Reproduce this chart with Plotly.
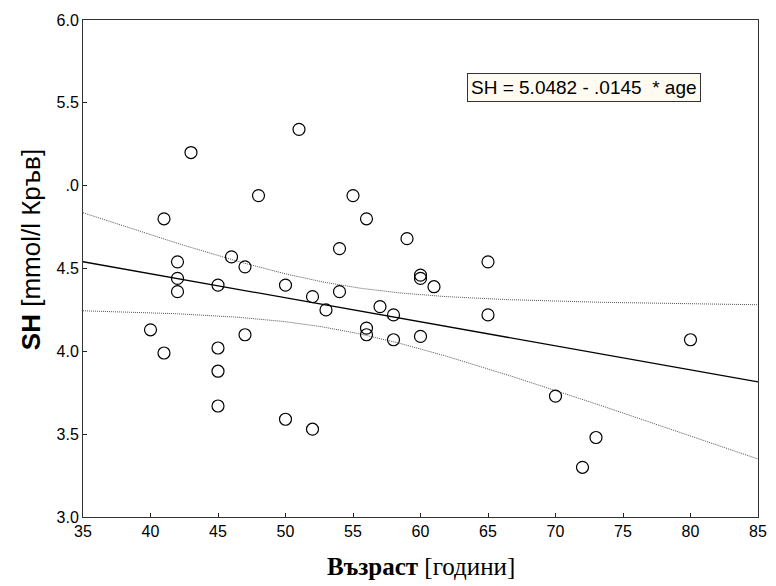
import numpy as np
import plotly.graph_objects as go

# Patient age (years) and SH concentration (mmol/l blood)
age = [40, 41, 41, 42, 42, 42, 43, 45, 45, 45, 45, 46, 47, 47, 48, 50, 50, 51, 52, 52, 53,
       54, 54, 55, 56, 56, 56, 57, 58, 58, 59, 60, 60, 60, 61, 65, 65, 70, 72, 73, 80]
sh = [4.13, 4.80, 3.99, 4.54, 4.44, 4.36, 5.20, 4.40, 4.02, 3.88, 3.67, 4.57, 4.51, 4.10, 4.94,
      4.40, 3.59, 5.34, 4.33, 3.53, 4.25, 4.62, 4.36, 4.94, 4.80, 4.14, 4.10, 4.27, 4.22, 4.07,
      4.68, 4.46, 4.44, 4.09, 4.39, 4.54, 4.22, 3.73, 3.30, 3.48, 4.07]

# Regression coefficients stated in the equation box
intercept = 5.0482
slope = -0.0145

x_ticks = [35, 40, 45, 50, 55, 60, 65, 70, 75, 80, 85]
y_ticks = [3.0, 3.5, 4.0, 4.5, 5.0, 5.5, 6.0]
y_tick_text = ["3.0", "3.5", "4.0", "4.5", ".0", "5.5", "6.0"]

# Fitted line and 95% confidence band of the mean
xa = np.array(age, dtype=float)
ya = np.array(sh, dtype=float)
n = len(xa)
resid = ya - (intercept + slope * xa)
s = np.sqrt(np.sum(resid ** 2) / (n - 2))
sxx = np.sum((xa - xa.mean()) ** 2)
t_crit = 2.023
xg = np.linspace(35, 85, 201)
yfit = intercept + slope * xg
half = t_crit * s * np.sqrt(1.0 / n + (xg - xa.mean()) ** 2 / sxx)

fig = go.Figure()
fig.add_trace(go.Scatter(x=xg, y=yfit + half, mode="lines",
                         line=dict(color="#555555", width=1, dash="1px,1px"), hoverinfo="skip"))
fig.add_trace(go.Scatter(x=xg, y=yfit - half, mode="lines",
                         line=dict(color="#555555", width=1, dash="1px,1px"), hoverinfo="skip"))
fig.add_trace(go.Scatter(x=xg, y=yfit, mode="lines",
                         line=dict(color="black", width=1.3), hoverinfo="skip"))
fig.add_trace(go.Scatter(x=age, y=sh, mode="markers",
                         marker=dict(symbol="circle-open", size=12, color="black",
                                     line=dict(width=1.2, color="black"))))

tick_font = dict(family="Liberation Sans Narrow, Liberation Sans, Arial", size=16, color="black")

fig.update_xaxes(range=[35, 85], tickvals=x_ticks, ticktext=[str(v) for v in x_ticks],
                 ticks="inside", ticklen=4, tickcolor="#222", showgrid=False, zeroline=False,
                 showline=True, linecolor="#333", linewidth=1, mirror=True, tickfont=tick_font)
fig.update_yaxes(range=[3.0, 6.0], tickvals=y_ticks, ticktext=y_tick_text,
                 ticks="inside", ticklen=4, tickcolor="#222", showgrid=False, zeroline=False,
                 showline=True, linecolor="#333", linewidth=1, mirror=True, tickfont=tick_font)

fig.add_annotation(text="<b>SH</b> [mmol/l Кръв]", xref="paper", yref="paper",
                   x=-0.077, y=0.537, textangle=-90, showarrow=False,
                   xanchor="center", yanchor="middle",
                   font=dict(family="Liberation Sans, Arial", size=26, color="black"))
fig.add_annotation(text="<b>Възраст</b> [години]", xref="paper", yref="paper",
                   x=0.5, y=-0.10, showarrow=False, xanchor="center", yanchor="middle",
                   font=dict(family="Liberation Serif, Times New Roman", size=25, color="black"))
fig.add_annotation(text="SH = 5.0482 - .0145  * age", xref="paper", yref="paper",
                   x=(472 - 83) / 684, y=(517 - 73) / 497, xanchor="left", yanchor="top",
                   showarrow=False, bgcolor="#fffbf0", bordercolor="#333", borderwidth=1,
                   borderpad=3,
                   font=dict(family="Liberation Sans Narrow, Liberation Sans, Arial", size=19,
                             color="black"))

fig.update_layout(width=776, height=586, showlegend=False,
                  margin=dict(l=83, r=9, t=20, b=69),
                  plot_bgcolor="white", paper_bgcolor="white")

fig.write_html("out.html")
